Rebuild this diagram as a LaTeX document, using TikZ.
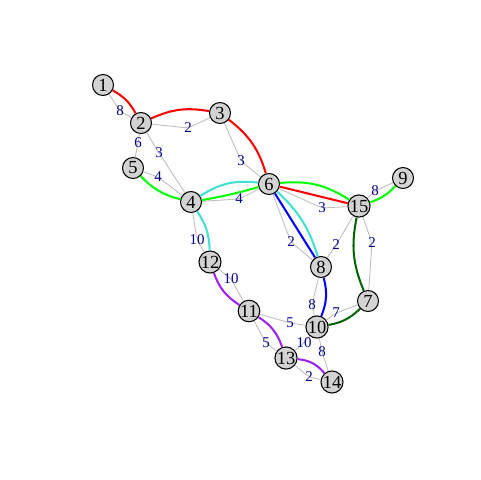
\documentclass[tikz,border=0pt]{standalone}
\usepackage{fontspec}
\setmainfont{Liberation Serif}
\definecolor{vfill}{RGB}{211,211,211}
\definecolor{egray}{RGB}{190,190,190}
\definecolor{elab}{RGB}{0,0,139}
\definecolor{turq}{RGB}{64,224,208}
\definecolor{dkgreen}{RGB}{0,100,0}
\definecolor{rpurple}{RGB}{160,32,240}
\tikzset{
  vtx/.style={circle,draw=black,line width=0.6pt,fill=vfill,minimum size=0.42cm,inner sep=0pt,font=\fontsize{10.5}{11}\selectfont},
  gline/.style={draw=egray,line width=0.5pt,rounded corners=3pt},
  elabel/.style={text=elab,inner sep=0pt,font=\fontsize{8.5}{9}\selectfont},
  path/.style={line width=1.15pt},
}
\begin{document}
\begin{tikzpicture}[x=0.02cm,y=-0.02cm]
        \useasboundingbox (0,0) rectangle (480,480);
        % vertices
        \node[vtx] (v1) at (103,85) {1};
        \node[vtx] (v2) at (141,123) {2};
        \node[vtx] (v3) at (220,113) {3};
        \node[vtx] (v4) at (191,202) {4};
        \node[vtx] (v5) at (133,168) {5};
        \node[vtx] (v6) at (269,184) {6};
        \node[vtx] (v7) at (368,301) {7};
        \node[vtx] (v8) at (321,267) {8};
        \node[vtx] (v9) at (403,178) {9};
        \node[vtx] (v10) at (317,327) {10};
        \node[vtx] (v11) at (249,311) {11};
        \node[vtx] (v12) at (210,262) {12};
        \node[vtx] (v13) at (286,358) {13};
        \node[vtx] (v14) at (332,382) {14};
        \node[vtx] (v15) at (359,206) {15};
        % weighted edges
        \draw[gline] (v1) -- (120,111) node[elabel] {8} -- (v2);
        \draw[gline] (v2) -- (188,128) node[elabel] {2} -- (v3);
        \draw[gline] (v2) -- (138,143) node[elabel] {6} -- (v5);
        \draw[gline] (v2) -- (159,153) node[elabel] {3} -- (v4);
        \draw[gline] (v5) -- (158,177) node[elabel] {4} -- (v4);
        \draw[gline] (v3) -- (241,161) node[elabel] {3} -- (v6);
        \draw[gline] (v4) -- (239,199) node[elabel] {4} -- (v6);
        \draw[gline] (v4) -- (197,240) node[elabel] {10} -- (v12);
        \draw[gline] (v6) -- (322,208) node[elabel] {3} -- (v15);
        \draw[gline] (v6) -- (291,242) node[elabel] {2} -- (v8);
        \draw[gline] (v8) -- (336,245) node[elabel] {2} -- (v15);
        \draw[gline] (v15) -- (375,191) node[elabel] {8} -- (v9);
        \draw[gline] (v15) -- (372,243) node[elabel] {2} -- (v7);
        \draw[gline] (v8) -- (312,305) node[elabel] {8} -- (v10);
        \draw[gline] (v7) -- (336,313) node[elabel] {7} -- (v10);
        \draw[gline] (v12) -- (231,279) node[elabel] {10} -- (v11);
        \draw[gline] (v11) -- (290,323) node[elabel] {5} -- (v10);
        \draw[gline] (v11) -- (266,343) node[elabel] {5} -- (v13);
        \draw[gline] (v13) -- (304,343) node[elabel] {10} -- (v10);
        \draw[gline] (v10) -- (322,352) node[elabel] {8} -- (v14);
        \draw[gline] (v13) -- (309,377) node[elabel] {2} -- (v14);
        % shortest paths
        \draw[path,red] (v1) to[bend left=16] (v2);
        \draw[path,red] (v2) to[bend left=17] (v3);
        \draw[path,red] (v3) to[bend left=18] (v6);
        \draw[path,red] (v6) -- (v15);
        \draw[path,green] (v5) to[bend right=16] (v4);
        \draw[path,green] (v4) to[bend right=3] (v6);
        \draw[path,green] (v6) to[bend left=19] (v15);
        \draw[path,green] (v15) to[bend right=14] (v9);
        \draw[path,turq] (v4) to[bend left=20] (v6);
        \draw[path,turq] (v6) to[bend left=15] (v8);
        \draw[path,turq] (v4) to[bend left=16] (v12);
        \draw[path,blue] (v6) -- (v8);
        \draw[path,blue] (v8) to[bend left=18] (v10);
        \draw[path,dkgreen] (v15) to[bend right=17] (v7);
        \draw[path,dkgreen] (v7) to[bend left=17] (v10);
        \draw[path,rpurple] (v12) to[bend right=19] (v11);
        \draw[path,rpurple] (v11) to[bend left=19] (v13);
        \draw[path,rpurple] (v13) to[bend left=22] (v14);
\end{tikzpicture}
\end{document}
